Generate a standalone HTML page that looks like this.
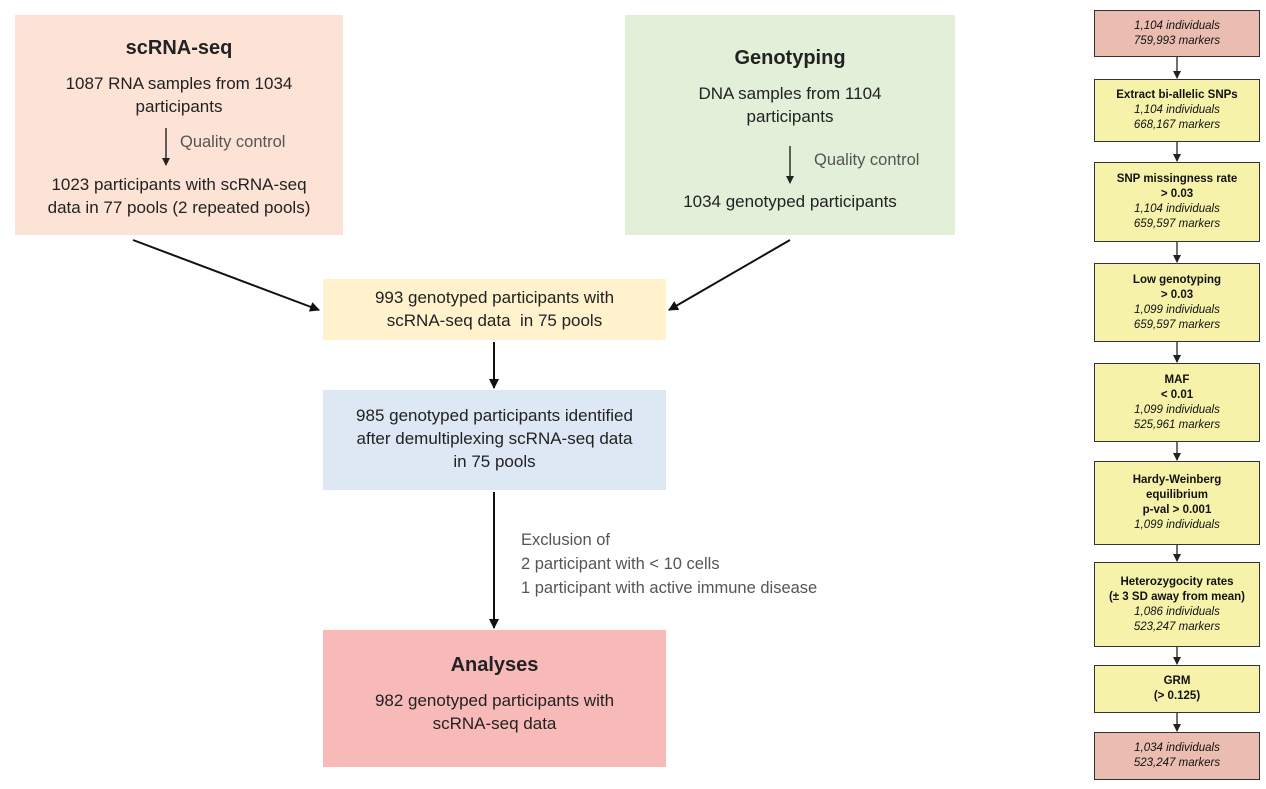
<!DOCTYPE html>
<html><head><style>
body{margin:0;width:1266px;height:789px;background:#fff;position:relative;font-family:"Liberation Sans",sans-serif;overflow:hidden}
.b{position:absolute;box-sizing:border-box;text-align:center;color:#222;font-size:17px;line-height:23px}
.t{font-weight:bold;font-size:20px;margin-bottom:12px}
.r{position:absolute;left:1094px;width:166px;box-sizing:border-box;border:1px solid #333;background:#f6f2aa;text-align:center;font-size:11.5px;line-height:15px;color:#111;display:flex;flex-direction:column;justify-content:center}
.r b{font-weight:bold}.r i{font-style:italic}
.p{background:#ebbdb1}
.lbl{position:absolute;color:#555;font-size:16.5px;line-height:24px}
</style></head><body>
<div class="b" style="left:15px;top:15px;width:328px;height:220px;background:#fde3d6;padding-top:22px"><div class="t">scRNA-seq</div>1087 RNA samples from 1034<br>participants<div style="height:55px"></div>1023 participants with scRNA-seq<br>data in 77 pools (2 repeated pools)</div>
<div class="lbl" style="left:180px;top:130px">Quality control</div>
<div class="b" style="left:625px;top:15px;width:330px;height:220px;background:#e2efd9;padding-top:32px"><div class="t">Genotyping</div>DNA samples from 1104<br>participants<div style="height:62px"></div>1034 genotyped participants</div>
<div class="lbl" style="left:814px;top:148px">Quality control</div>
<div class="b" style="left:323px;top:279px;width:343px;height:61px;background:#fff2cc;padding-top:7px">993 genotyped participants with<br>scRNA-seq data &nbsp;in 75 pools</div>
<div class="b" style="left:323px;top:390px;width:343px;height:100px;background:#dde8f4;padding-top:14px">985 genotyped participants identified<br>after demultiplexing scRNA-seq data<br>in 75 pools</div>
<div class="lbl" style="left:521px;top:528px">Exclusion of<br>2 participant with &lt; 10 cells<br>1 participant with active immune disease</div>
<div class="b" style="left:323px;top:630px;width:343px;height:137px;background:#f8b9b9;padding-top:24px"><div class="t">Analyses</div>982 genotyped participants with<br>scRNA-seq data</div>
<svg width="1266" height="789" style="position:absolute;left:0;top:0">
<defs><marker id="a" markerWidth="10" markerHeight="10" refX="9" refY="5" orient="auto" markerUnits="userSpaceOnUse"><path d="M0,0L10,5L0,10z" fill="#111"/></marker>
<marker id="s" markerWidth="8" markerHeight="8" refX="7" refY="4" orient="auto" markerUnits="userSpaceOnUse"><path d="M0,0L8,4L0,8z" fill="#222"/></marker></defs>
<g stroke="#111" stroke-width="2" fill="none">
<line x1="133" y1="240" x2="319" y2="310" marker-end="url(#a)"/>
<line x1="790" y1="240" x2="669" y2="310" marker-end="url(#a)"/>
<line x1="494" y1="342" x2="494" y2="388" marker-end="url(#a)"/>
<line x1="494" y1="492" x2="494" y2="628" marker-end="url(#a)"/>
</g>
<g stroke="#111" stroke-width="1.3">
<line x1="166" y1="128" x2="166" y2="165" marker-end="url(#s)"/>
<line x1="790" y1="146" x2="790" y2="183" marker-end="url(#s)"/>
</g>
<g stroke="#222" stroke-width="1.3">
<line x1="1177" y1="57" x2="1177" y2="78" marker-end="url(#s)"/>
<line x1="1177" y1="142" x2="1177" y2="161" marker-end="url(#s)"/>
<line x1="1177" y1="242" x2="1177" y2="262" marker-end="url(#s)"/>
<line x1="1177" y1="342" x2="1177" y2="362" marker-end="url(#s)"/>
<line x1="1177" y1="442" x2="1177" y2="460" marker-end="url(#s)"/>
<line x1="1177" y1="545" x2="1177" y2="561" marker-end="url(#s)"/>
<line x1="1177" y1="647" x2="1177" y2="664" marker-end="url(#s)"/>
<line x1="1177" y1="713" x2="1177" y2="731" marker-end="url(#s)"/>
</g>
</svg>
<div class="r p" style="top:10px;height:47px"><i>1,104 individuals</i><i>759,993 markers</i></div>
<div class="r" style="top:79px;height:63px"><b>Extract bi-allelic SNPs</b><i>1,104 individuals</i><i>668,167 markers</i></div>
<div class="r" style="top:162px;height:80px"><b>SNP missingness rate</b><b>&gt; 0.03</b><i>1,104 individuals</i><i>659,597 markers</i></div>
<div class="r" style="top:263px;height:79px"><b>Low genotyping</b><b>&gt; 0.03</b><i>1,099 individuals</i><i>659,597 markers</i></div>
<div class="r" style="top:363px;height:79px"><b>MAF</b><b>&lt; 0.01</b><i>1,099 individuals</i><i>525,961 markers</i></div>
<div class="r" style="top:461px;height:84px"><b>Hardy-Weinberg</b><b>equilibrium</b><b>p-val &gt; 0.001</b><i>1,099 individuals</i></div>
<div class="r" style="top:562px;height:85px"><b>Heterozygocity rates</b><b>(± 3 SD away from mean)</b><i>1,086 individuals</i><i>523,247 markers</i></div>
<div class="r" style="top:665px;height:48px"><b>GRM</b><b>(&gt; 0.125)</b></div>
<div class="r p" style="top:732px;height:48px"><i>1,034 individuals</i><i>523,247 markers</i></div>
</body></html>
